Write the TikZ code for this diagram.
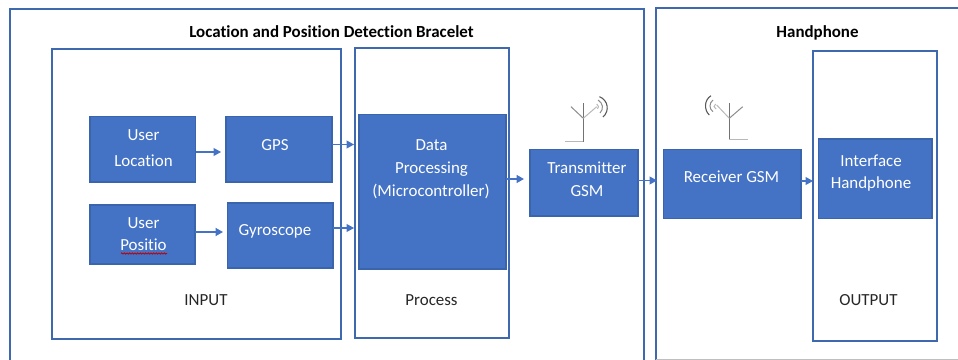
\documentclass[tikz,border=0pt]{standalone}
\usepackage{fontspec}
\setmainfont[Ligatures=NoCommon]{Carlito}
\usetikzlibrary{arrows.meta,decorations.pathmorphing}
\definecolor{frameblue}{HTML}{3F69AE}
\definecolor{fillblue}{HTML}{4472C4}
\definecolor{edgeblue}{HTML}{3A64AC}
\definecolor{arrowblue}{HTML}{4472C4}
\tikzset{
  x=0.75pt,y=-0.75pt,
  framebox/.style={draw=frameblue,line width=2*0.75pt,fill=none,inner sep=0pt,outer sep=0pt,line cap=square},
  bluebox/.style={draw=edgeblue,line width=1.8*0.75pt,fill=fillblue,inner sep=0pt,outer sep=0pt,line cap=square},
  whitetxt/.style={text=white,font=\fontsize{12.7pt}{14pt}\selectfont,anchor=base,inner sep=0pt,yshift=-0.4pt},
  blacktxt/.style={text=black!85,font=\fontsize{12.7pt}{14pt}\selectfont,anchor=base,inner sep=0pt,yshift=-0.3pt},
  titletxt/.style={text=black,font=\fontsize{12.7pt}{14pt}\selectfont\bfseries,anchor=base,inner sep=0pt,yshift=-0.3pt},
  link/.style={draw=arrowblue,line width=1.1*0.75pt,-{Triangle[length=7.5*0.75pt,width=8*0.75pt]}},
  mast/.style={draw=black!55,line width=1.2*0.75pt},
  armlight/.style={draw=black!28,line width=1*0.75pt},
  armmid/.style={draw=black!45,line width=0.75pt},
  wave/.style={draw=black!65,line width=1.1*0.75pt},
}
\newcommand{\pxbox}[6]{\node[#6,minimum width={(#4-#2)*0.75pt},minimum height={(#5-#3)*0.75pt}] (#1) at ({(#2+#4)/2},{(#3+#5)/2}) {};}
\begin{document}
\begin{tikzpicture}
\useasboundingbox (0,0) rectangle (958,360);
\clip (0,0) rectangle (958,360);
% outer frames
\pxbox{bracelet}{10}{9.5}{644}{400}{framebox}
\pxbox{phone}{655.5}{8.5}{1000}{400}{framebox}
\draw[draw=black!25,line width=0.75pt] (655.5,359.3) -- (958,359.3);
% group frames
\pxbox{input}{52}{49}{341}{339}{framebox}
\pxbox{process}{355}{48}{508.5}{338}{framebox}
\pxbox{output}{813.3}{51}{937}{341}{framebox}
% blue boxes
\pxbox{uloc}{90}{116.5}{195.5}{182}{bluebox}
\pxbox{gps}{226}{116.5}{332}{182}{bluebox}
\pxbox{upos}{90}{205}{195}{264}{bluebox}
\pxbox{gyro}{227.5}{203}{333}{268}{bluebox}
\pxbox{data}{359}{114.5}{506}{269}{bluebox}
\pxbox{trans}{530}{149.5}{638}{216}{bluebox}
\pxbox{recv}{663.5}{149.5}{801}{218.5}{bluebox}
\pxbox{iface}{818.5}{139}{932}{218.5}{bluebox}
% titles and captions
\node[titletxt] (t1) at (331.5,37.5) {Location and Position Detection Bracelet};
\node[titletxt] (t2) at (817.5,37.5) {Handphone};
\node[blacktxt] (l1) at (206,305) {INPUT};
\node[blacktxt] (l2) at (431.5,305) {Process};
\node[blacktxt] (l3) at (868.5,305) {OUTPUT};
% box texts
\node[whitetxt] (a1) at (143.5,140) {User};
\node[whitetxt] (a2) at (143.5,166) {Location};
\node[whitetxt] (a3) at (275,150) {GPS};
\node[whitetxt] (a4) at (143.5,228) {User};
\node[whitetxt] (a5) at (143.5,250) {Positio};
\node[whitetxt] (a6) at (275,234.5) {Gyroscope};
\node[whitetxt] (a7) at (431.5,150) {Data};
\node[whitetxt] (a8) at (431.5,172.5) {Processing};
\node[whitetxt] (a9) at (431,195.5) {(Microcontroller)};
\node[whitetxt] (a10) at (587,172.7) {Transmitter};
\node[whitetxt] (a11) at (587,195.5) {GSM};
\node[whitetxt] (a12) at (731.5,182) {Receiver GSM};
\node[whitetxt] (a13) at (871,165.7) {Interface};
\node[whitetxt] (a14) at (871,188) {Handphone};
% spell-check squiggle
\draw[draw=red!75!black,line width=0.6pt,decorate,decoration={zigzag,amplitude=0.5pt,segment length=2pt}] (121,253.5) -- (167,253.5);
% connectors
\coordinate (e1) at (221,152);
\coordinate (e2) at (354,144.5);
\coordinate (e3) at (223,232);
\coordinate (e4) at (354,228);
\coordinate (e5) at (524,179);
\coordinate (e6) at (657,180.5);
\coordinate (e7) at (813,181);
\draw[link] (uloc.east |- e1) -- (e1);
\draw[link] (gps.east |- e2) -- (e2);
\draw[link,line width=1.7*0.75pt] (upos.east |- e3) -- (e3);
\draw[link] (gyro.east |- e4) -- (e4);
\draw[link,line width=1.5*0.75pt] (data.east |- e5) -- (e5);
\draw[link] (trans.east |- e6) -- (e6);
\draw[link] (recv.east |- e7) -- (e7);
% transmitting antenna
\draw[mast] (583.3,103.3) -- (583.3,141.7);
\draw[armlight] (565,141.7) -- (583.3,141.7);
\draw[armmid] (571,106.7) -- (583.3,118.3);
\draw[armlight] (583.3,118.3) -- (596.7,106.7);
\draw[armlight] (596.7,104) .. controls (599,105.5) and (599,107.5) .. (597.5,109);
\draw[armmid] (598,100) .. controls (603,103) and (604,109) .. (600,113);
\draw[wave] (599.5,96.7) .. controls (608,100) and (610,111) .. (603,117);
% receiving antenna
\draw[mast] (729.3,103.3) -- (729.3,140);
\draw[armlight] (729.3,140) -- (748,140);
\draw[armmid] (742.7,106.7) -- (729.3,118.3);
\draw[armlight] (729.3,118.3) -- (716.7,105);
\draw[armlight] (715.7,104) .. controls (713.5,105.5) and (713.5,107.5) .. (716,109);
\draw[armmid] (713,100) .. controls (709,103) and (709,109) .. (713,111.7);
\draw[wave] (711,95.7) .. controls (704,100) and (704,110) .. (709.3,115);
\end{tikzpicture}
\end{document}
